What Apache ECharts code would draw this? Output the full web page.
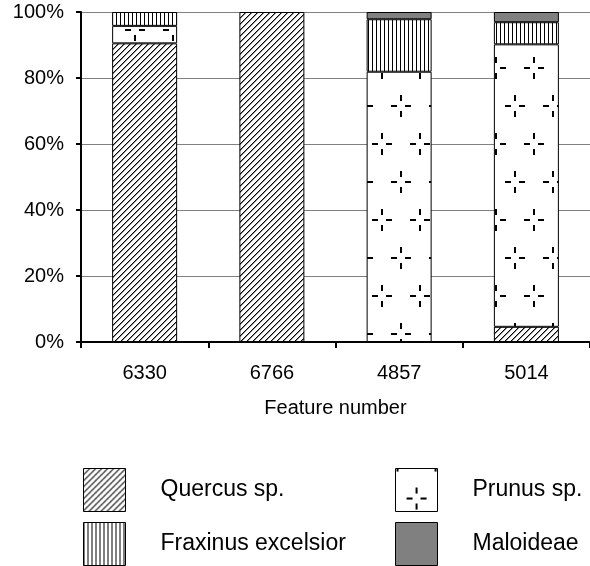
<!DOCTYPE html>
<html><head><meta charset="utf-8">
<script src="https://cdn.jsdelivr.net/npm/echarts@6/dist/echarts.min.js"></script>
<style>html,body{margin:0;padding:0;background:#fff}#c{width:590px;height:566px}</style>
</head><body><div id="c"></div>
<script>
// ---- data (percent of each feature) ----
const categories = ['6330', '6766', '4857', '5014'];
const quercus    = [90.5, 100, 0, 4.6];
const prunus     = [5.3, 0, 81.9, 85.6];
const fraxinus   = [4.2, 0, 15.9, 6.7];
const maloideae  = [0, 0, 2.2, 3.1];
const seriesNames = ['Quercus sp.', 'Prunus sp.', 'Fraxinus excelsior', 'Maloideae'];
const yMin = 0, yMax = 100, yStep = 20;

// ---- fill patterns ----
function tile(w, h, draw) {
  const c = document.createElement('canvas');
  c.width = w; c.height = h;
  const g = c.getContext('2d');
  g.fillStyle = '#fff'; g.fillRect(0, 0, w, h);
  g.fillStyle = '#000'; g.strokeStyle = '#000';
  draw(g, w, h);
  return c;
}
const diag = tile(6, 6, (g, w, h) => {
  for (let y = 0; y < h; y++) {
    g.fillRect(w - 1 - y, y, 1, 1);
    g.fillStyle = 'rgba(0,0,0,0.45)';
    g.fillRect((w - y) % w, y, 1, 1);
    g.fillStyle = '#000';
  }
});
const vert = tile(4, 4, (g) => { g.fillRect(0, 0, 1, 4); });
const cross = tile(38, 76, (g, w, h) => {
  const centers = [[21, 30], [2, 68]];
  centers.forEach(([cx, cy]) => {
    for (const dx of [-w, 0, w]) for (const dy of [-h, 0, h]) {
      const x = cx + dx, y = cy + dy;
      g.fillRect(x - 10, y - 1, 6, 2);
      g.fillRect(x + 4, y - 1, 6, 2);
      g.fillRect(x - 1, y - 11, 2, 6);
      g.fillRect(x - 1, y + 5, 2, 6);
    }
  });
});
const fills = [
  { image: diag, repeat: 'repeat' },
  { image: cross, repeat: 'repeat' },
  { image: vert, repeat: 'repeat' },
  '#808080'
];
const values = [quercus, prunus, fraxinus, maloideae];

const font = '"Liberation Sans", Arial, Helvetica, sans-serif';
const chart = echarts.init(document.getElementById('c'), null, { renderer: 'canvas' });
const legendCommon = {
  orient: 'vertical', top: 468, padding: 0,
  itemWidth: 42, itemHeight: 43, itemGap: 10, icon: 'rect',
  selectedMode: false,
  itemStyle: { borderColor: '#000', borderWidth: 1 },
  textStyle: { fontFamily: font, fontSize: 23, color: '#000', padding: [0, 0, 0, 30] }
};
chart.setOption({
  animation: false,
  backgroundColor: '#fff',
  grid: { left: 81, right: 0, top: 12, bottom: 224 },
  legend: [
    Object.assign({}, legendCommon, { left: 83, data: [seriesNames[0], seriesNames[2]] }),
    Object.assign({}, legendCommon, { left: 395, data: [seriesNames[1], seriesNames[3]] })
  ],
  xAxis: {
    type: 'category', data: categories,
    name: 'Feature number', nameLocation: 'middle', nameGap: 56,
    nameTextStyle: { fontFamily: font, fontSize: 20, color: '#000' },
    axisLine: { lineStyle: { color: '#000', width: 2 } },
    axisTick: { show: true, length: 6, lineStyle: { color: '#000', width: 2 } },
    axisLabel: { fontFamily: font, fontSize: 20, color: '#000', margin: 21 },
    splitLine: { show: false }
  },
  yAxis: {
    type: 'value', min: yMin, max: yMax, interval: yStep,
    axisLine: { show: true, lineStyle: { color: '#000', width: 2 } },
    axisTick: { show: true, length: 5, lineStyle: { color: '#000', width: 2 } },
    axisLabel: { fontFamily: font, fontSize: 20, color: '#000', margin: 17, formatter: '{value}%' },
    splitLine: { show: true, lineStyle: { color: '#808080', width: 1 } }
  },
  series: seriesNames.map((n, i) => ({
    name: n, type: 'bar', stack: 'all', barWidth: 65,
    data: values[i].map(v => (v === 0 ? null : v)),
    itemStyle: { color: fills[i], borderColor: '#000', borderWidth: 1 }
  }))
});
</script></body></html>
